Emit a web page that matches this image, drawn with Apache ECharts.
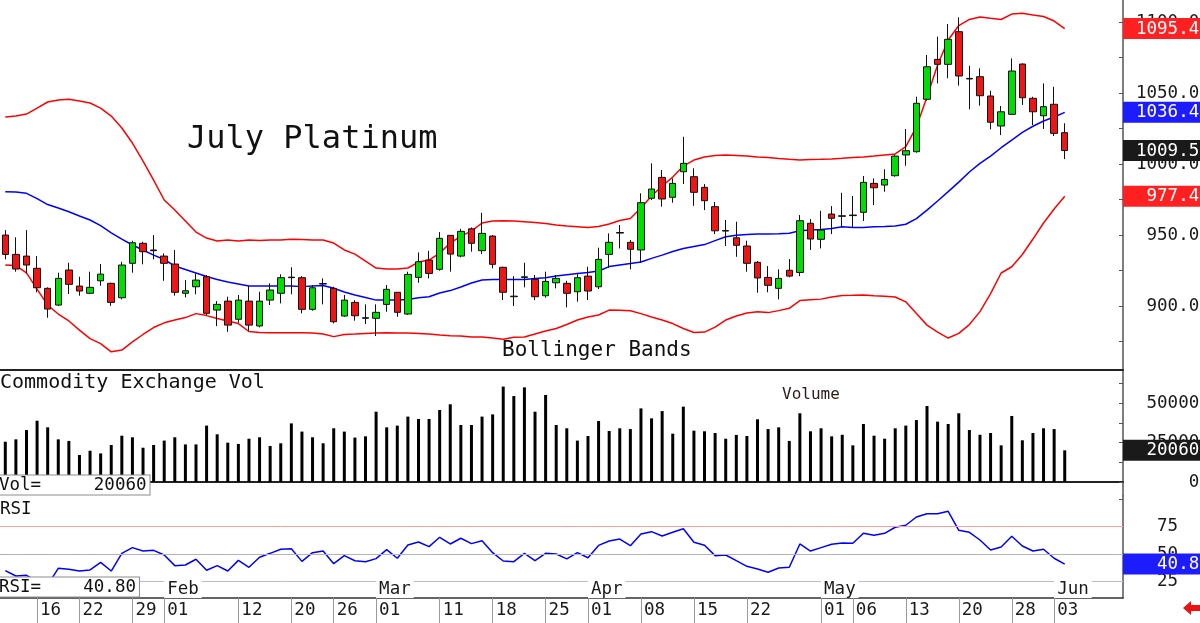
<!DOCTYPE html>
<html lang="en">
<head>
<meta charset="UTF-8">
<title>July Platinum</title>
<script src="https://cdn.jsdelivr.net/npm/echarts@6/dist/echarts.min.js"></script>
<style>
  html, body { margin: 0; padding: 0; background: #fff; }
  #main { width: 1200px; height: 623px; }
</style>
</head>
<body>
<div id="main"></div>
<script>
var dates = ['01-09','01-10','01-11','01-12','01-16','01-17','01-18','01-19','01-22','01-23','01-24','01-25','01-26','01-29','01-30','01-31',
  '02-01','02-02','02-05','02-06','02-07','02-08','02-09','02-12','02-13','02-14','02-15','02-16','02-20','02-21','02-22','02-23','02-26','02-27','02-28','02-29',
  '03-01','03-04','03-05','03-06','03-07','03-08','03-11','03-12','03-13','03-14','03-15','03-18','03-19','03-20','03-21','03-22','03-25','03-26','03-27','03-28',
  '04-01','04-02','04-03','04-04','04-05','04-08','04-09','04-10','04-11','04-12','04-15','04-16','04-17','04-18','04-19','04-22','04-23','04-24','04-25','04-26','04-29','04-30',
  '05-01','05-02','05-03','05-06','05-07','05-08','05-09','05-10','05-13','05-14','05-15','05-16','05-17','05-20','05-21','05-22','05-23','05-24','05-28','05-29','05-30','05-31',
  '06-03'];

var opens = [950.0,936.4,935.2,926.6,912.5,900.7,925.4,914.1,909.0,917.8,
  916.0,905.9,930.1,944.2,939.5,935.2,929.6,909.0,913.6,920.7,
  897.2,903.5,890.7,903.5,886.0,904.2,909.0,920.0,920.0,897.7,
  915.5,912.5,893.0,902.6,891.4,891.4,901.2,909.7,894.4,920.2,
  932.4,925.9,949.8,935.2,954.4,939.0,949.3,927.3,906.6,920.2,
  918.8,907.3,916.4,916.0,910.1,921.1,913.6,936.4,951.8,944.9,
  939.5,975.9,990.6,976.6,994.6,991.1,983.6,970.0,952.8,948.1,
  942.3,930.8,920.2,912.5,925.2,923.7,958.3,947.0,964.8,963.2,
  964.1,966.0,986.4,985.2,991.8,1006.4,1008.7,1045.6,1073.7,1070.2,
  1093.2,1060.3,1061.5,1047.9,1026.8,1035.0,1070.4,1046.3,1034.0,1042.1,
  1022.1];
var closes = [936.4,926.1,928.9,912.9,897.9,919.5,915.3,910.6,913.2,922.5,
  902.6,928.9,944.6,938.3,939.0,930.1,909.7,910.8,918.3,894.9,
  901.2,886.6,904.2,886.6,903.5,911.3,920.0,920.4,897.7,912.9,
  915.9,889.0,904.2,893.2,891.8,895.6,911.8,895.6,922.3,931.2,
  923.0,947.7,936.6,952.6,944.2,951.2,929.4,909.7,907.0,920.6,
  906.6,917.4,919.5,909.0,920.0,910.6,932.9,944.9,951.4,940.0,
  972.8,982.4,975.4,986.4,1000.5,980.1,974.2,953.0,953.2,942.8,
  930.1,919.8,914.6,919.5,921.1,960.1,947.2,953.5,961.8,963.6,
  963.7,987.1,983.3,989.2,1005.6,1009.4,1042.8,1068.5,1070.2,1087.8,
  1062.0,1059.9,1048.1,1029.4,1036.8,1065.5,1046.7,1036.8,1040.4,1021.6,
  1009.5];
var lows = [932.9,924.2,923.0,909.7,891.8,900.0,908.5,907.3,908.5,914.3,
  900.2,904.7,923.5,929.4,932.9,917.8,907.3,906.1,908.3,893.7,
  885.9,881.9,888.3,882.4,885.0,900.7,901.9,908.3,894.9,896.7,
  901.2,887.8,892.5,889.7,887.3,878.9,896.0,892.5,893.7,916.4,
  919.5,924.9,924.2,934.3,938.3,936.6,926.6,904.2,900.0,913.2,
  904.2,905.9,912.5,899.1,903.1,904.2,912.0,927.0,940.6,925.9,
  930.5,974.7,970.0,972.8,985.9,970.6,967.6,950.7,942.3,934.7,
  924.2,909.4,909.7,904.7,920.2,921.1,939.5,940.6,950.7,955.4,
  955.4,959.9,971.1,980.5,991.1,998.8,1008.0,1044.6,1056.8,1060.4,
  1055.2,1038.5,1041.1,1024.4,1020.4,1034.5,1041.6,1027.5,1024.7,1019.7,
  1003.5];
var highs = [953.5,948.4,953.5,935.2,913.2,923.5,930.5,920.7,924.2,929.6,
  916.5,931.2,946.0,945.3,950.0,937.1,939.5,918.3,923.0,921.9,
  903.5,906.6,907.8,914.1,910.1,916.0,922.4,927.3,921.1,914.8,
  919.5,913.6,907.8,904.2,901.2,901.2,914.8,909.9,924.2,937.8,
  938.9,952.1,950.0,954.4,955.4,965.7,950.0,927.7,921.1,930.5,
  921.9,924.2,921.9,917.8,922.4,927.7,941.1,951.2,957.1,946.5,
  979.4,1000.5,995.8,989.9,1019.2,997.0,985.9,973.3,960.6,959.4,
  946.0,931.7,928.2,925.9,933.1,964.1,961.3,967.1,970.4,979.8,
  977.5,991.6,989.9,996.3,1006.8,1024.7,1047.4,1076.8,1089.7,1098.6,
  1103.3,1069.2,1067.4,1051.6,1040.9,1074.4,1070.9,1047.4,1056.8,1054.4,
  1028.7];

// Bollinger bands
var upperBand = [1033.1,1033.8,1035.2,1039.4,1043.7,1045.1,1045.6,1044.4,1043.0,1039.4,
  1033.8,1025.4,1014.8,1002.1,988.7,974.7,967.6,959.9,952.1,947.9,
  945.8,946.5,945.8,946.5,946.1,946.5,946.5,947.0,946.8,946.5,
  946.5,944.4,939.5,936.6,931.7,926.8,926.1,926.1,926.8,931.0,
  932.4,937.3,944.4,949.3,952.8,958.5,959.9,960.1,959.9,959.4,
  958.8,958.1,957.1,956.4,955.9,955.4,956.1,957.8,960.2,961.6,
  969.0,977.5,984.5,990.9,998.6,1002.8,1004.9,1006.0,1006.4,1006.1,
  1005.6,1004.9,1004.6,1003.9,1003.3,1002.8,1003.2,1003.3,1003.5,1004.0,
  1004.6,1004.9,1005.6,1006.4,1007.1,1012.2,1026.1,1047.4,1069.7,1087.3,
  1097.5,1101.8,1103.5,1102.6,1101.8,1105.6,1106.1,1104.9,1103.9,1100.7,
  1095.4];
var midBand = [980.5,980.3,979.4,975.7,971.5,969.0,966.4,963.4,960.6,956.7,
  951.6,947.2,943.0,939.5,935.9,932.8,928.2,925.7,923.3,920.8,
  918.7,916.9,915.5,914.1,914.1,914.1,914.2,914.2,913.7,914.1,
  914.5,912.6,909.9,907.8,906.0,904.2,904.2,904.2,904.6,905.9,
  906.6,909.2,910.9,913.4,916.2,918.3,918.8,918.8,918.8,918.8,
  919.4,920.0,921.1,922.0,922.9,923.6,924.7,927.8,928.9,929.9,
  931.0,933.6,935.9,938.4,940.5,941.9,943.3,946.1,948.8,949.9,
  950.4,950.7,950.7,950.9,951.3,953.0,953.5,954.0,954.7,955.9,
  955.4,955.4,955.9,956.1,956.4,957.6,961.6,967.6,974.0,980.6,
  987.3,994.4,1000.5,1005.6,1011.5,1016.9,1022.3,1026.6,1030.3,1033.1,
  1036.4];
var lowerBand = [928.9,928.5,923.4,912.0,900.7,894.4,889.5,883.1,877.1,873.6,
  867.8,869.0,874.8,880.0,884.9,888.2,890.2,891.9,894.7,893.3,
  891.3,889.5,887.7,882.1,881.4,881.2,881.2,881.2,881.2,881.0,
  880.3,878.5,880.0,880.3,880.7,881.0,881.2,881.1,881.0,880.7,
  880.3,879.7,879.2,878.9,878.3,878.2,877.5,876.6,878.0,878.2,
  880.3,882.4,884.2,887.0,890.2,892.3,893.7,897.2,897.0,896.7,
  894.7,892.3,890.2,887.7,884.2,881.4,881.7,885.2,890.2,893.0,
  895.1,896.0,895.4,896.8,898.4,903.9,904.4,904.9,906.4,907.5,
  907.6,907.8,907.3,906.9,906.4,903.0,894.7,886.6,881.7,877.5,
  880.8,887.0,896.1,908.8,923.3,927.7,936.3,947.2,958.5,968.3,
  977.4];

var volumes = [25500,27000,32900,38800,34600,27000,26000,17100,19800,18100,
  23400,29300,28300,21700,23400,26200,28300,23800,23800,35700,
  30200,24900,24100,27400,28300,22800,24500,37100,31900,28300,
  24500,34000,31900,28100,28900,44500,34600,35700,41400,39900,
  39900,45600,49200,36100,36100,41400,42800,60400,54400,59900,
  44500,55100,36100,34000,26200,29100,38600,32300,34000,33500,
  46600,40300,44900,30600,47700,32500,32100,31000,27400,29800,
  29100,39700,33500,34600,26000,43500,32100,34000,28900,29900,
  23200,36700,29300,27400,34000,35700,39200,48100,38200,36700,
  43500,32900,29900,31000,23200,41800,26400,31000,34000,33500,
  20060];

var rsi = [34.9,30.0,30.6,25.0,22.0,37.0,36.1,34.5,35.5,42.4,
  34.5,50.6,55.8,52.7,53.3,49.1,39.4,40.0,45.2,35.2,
  39.4,34.5,44.2,37.9,47.0,50.6,54.3,54.8,43.3,51.2,
  52.7,41.2,48.5,43.9,43.0,45.8,53.9,46.1,58.2,60.9,
  56.7,65.2,59.1,64.3,59.4,62.1,51.2,43.6,43.0,50.6,
  43.9,50.6,50.0,45.5,51.2,46.6,57.8,61.8,63.6,57.5,
  68.2,70.3,66.4,69.7,73.0,60.6,57.9,48.5,49.1,43.9,
  38.8,36.4,33.4,37.3,37.9,59.1,52.7,55.8,58.8,60.0,
  59.7,68.8,67.0,68.8,74.3,76.1,83.6,86.6,86.6,88.8,
  71.5,69.7,62.7,53.6,56.4,66.1,57.3,52.7,54.3,46.1,
  40.8];

var dayTicks = ['01-16','01-22','01-29','02-01','02-12','02-20','02-26','03-01','03-11','03-18','03-25',
  '04-01','04-08','04-15','04-22','05-01','05-06','05-13','05-20','05-28','06-03'];
var monthTicks = ['02-01','03-01','04-01','05-01','06-03'];
var monthNames = ['Feb','Mar','Apr','May','Jun'];
var priceLabels = [900, 950, 1000, 1050, 1100];
var priceMinor = [875, 900, 925, 950, 975, 1000, 1025, 1050, 1075, 1100];
var volLabels = [0, 25000, 50000];
var volMinor = [0, 12500, 25000, 37500, 50000, 62500];
var rsiLabels = [25, 50, 75];

var FONT = 'DejaVu Sans Mono';
var last = dates.length - 1;

// a few empty slots to the right of the last bar
var categories = dates.slice();
for (var k = 1; k <= 5; k++) categories.push('pad' + k);

var candles = dates.map(function (d, i) {
  return [opens[i], closes[i], lows[i], highs[i]];
});

function pad(s, n) {
  s = String(s);
  while (s.length < n) s = ' ' + s;
  return s;
}
function near(a, b) { return Math.abs(a - b) < 0.01; }

// ticks sit one slot before the labelled day
function dayInterval(index) { return dayTicks.indexOf(categories[index + 1]) >= 0; }
function monthInterval(index) { return monthTicks.indexOf(categories[index + 1]) >= 0; }

var chartDom = document.getElementById('main');
var myChart = echarts.init(chartDom, null, { renderer: 'canvas' });

var labelFont = { fontFamily: FONT, fontSize: 17.5, color: '#1a1a1a' };
function box(color) {
  return { backgroundColor: color, color: '#fff', fontFamily: FONT, fontSize: 17.5, padding: [2, 30, 1, 13] };
}
var boxRich = { r: box('#ff2121'), b: box('#1c1cff'), k: box('#1a1a1a') };

var PRICE_MIN = 855.0, PRICE_MAX = 1115.5;
var VOL_MIN = -8862, VOL_MAX = 70263;
var RSI_MIN = 10, RSI_MAX = 102.7;

var option = {
  animation: false,
  textStyle: { fontFamily: FONT },
  grid: [
    { left: 0, right: 77, top: 0, height: 370, outerBoundsMode: 'none', containLabel: false },
    { left: 0, right: 77, top: 371, height: 125, outerBoundsMode: 'none', containLabel: false },
    { left: 0, right: 77, top: 496, height: 102, outerBoundsMode: 'none', containLabel: false }
  ],
  xAxis: [
    { gridIndex: 0, type: 'category', data: categories,
      axisLine: { lineStyle: { color: '#222', width: 2 } }, axisTick: { show: false }, axisLabel: { show: false } },
    { gridIndex: 1, type: 'category', data: categories,
      axisLine: { lineStyle: { color: '#222', width: 2 } }, axisTick: { show: false }, axisLabel: { show: false } },
    { gridIndex: 2, type: 'category', data: categories, position: 'bottom',
      axisLine: { lineStyle: { color: '#333', width: 1.5 } },
      axisTick: { show: true, alignWithLabel: true, interval: dayInterval, length: 25, lineStyle: { color: '#9a9a9a' } },
      axisLabel: Object.assign({
        interval: dayInterval, align: 'left', margin: 3, padding: [0, 0, 0, 3],
        formatter: function (v, i) { return categories[i + 1].slice(3); }
      }, labelFont) },
    { gridIndex: 2, type: 'category', data: categories, position: 'bottom', z: 10,
      axisLine: { show: false }, axisTick: { show: false },
      axisLabel: Object.assign({
        inside: true, interval: monthInterval, align: 'left', margin: 0,
        backgroundColor: '#fff', padding: [0, 3, 0, 3],
        formatter: function (v, i) { return monthNames[monthTicks.indexOf(categories[i + 1])]; }
      }, labelFont) }
  ],
  yAxis: [
    { gridIndex: 0, type: 'value', position: 'right', min: PRICE_MIN, max: PRICE_MAX, splitLine: { show: false },
      axisLine: { show: true, lineStyle: { color: '#555', width: 1.5 } },
      axisTick: { show: true, inside: true, length: 4, customValues: priceMinor, lineStyle: { color: '#555' } },
      axisLabel: Object.assign({ customValues: priceLabels, align: 'left', margin: 13,
        formatter: function (v) { return pad(v.toFixed(1), 6); } }, labelFont) },
    { gridIndex: 0, type: 'value', position: 'right', min: PRICE_MIN, max: PRICE_MAX, splitLine: { show: false },
      axisLine: { show: false }, axisTick: { show: false },
      axisLabel: { customValues: [lowerBand[last], closes[last], midBand[last], upperBand[last]], align: 'left', margin: 0,
        rich: boxRich,
        formatter: function (v) {
          var key = near(v, midBand[last]) ? 'b' : near(v, closes[last]) ? 'k' : 'r';
          return '{' + key + '|' + pad(v.toFixed(1), 6) + '}';
        } } },
    { gridIndex: 1, type: 'value', position: 'right', min: VOL_MIN, max: VOL_MAX, splitLine: { show: false },
      axisLine: { show: true, lineStyle: { color: '#555', width: 1.5 } },
      axisTick: { show: true, inside: true, length: 4, customValues: volMinor, lineStyle: { color: '#555' } },
      axisLabel: Object.assign({ customValues: volLabels, align: 'left', margin: 13,
        formatter: function (v) { return pad(v, 6); } }, labelFont) },
    { gridIndex: 1, type: 'value', position: 'right', min: VOL_MIN, max: VOL_MAX, splitLine: { show: false },
      axisLine: { show: false }, axisTick: { show: false },
      axisLabel: { customValues: [volumes[last]], align: 'left', margin: 0, rich: boxRich,
        formatter: function (v) { return '{k|' + pad(v, 6) + '}'; } } },
    { gridIndex: 2, type: 'value', position: 'right', min: RSI_MIN, max: RSI_MAX, splitLine: { show: false },
      axisLine: { show: true, lineStyle: { color: '#555', width: 1.5 } },
      axisTick: { show: true, inside: true, length: 4, customValues: [25, 50, 75, 100], lineStyle: { color: '#555' } },
      axisLabel: Object.assign({ customValues: rsiLabels, align: 'left', margin: 13,
        formatter: function (v) { return pad(v, 4); } }, labelFont) },
    { gridIndex: 2, type: 'value', position: 'right', min: RSI_MIN, max: RSI_MAX, splitLine: { show: false },
      axisLine: { show: false }, axisTick: { show: false },
      axisLabel: { customValues: [rsi[last]], align: 'left', margin: 0, rich: boxRich,
        formatter: function (v) { return '{b|' + pad(v.toFixed(2), 7) + '}'; } } }
  ],
  series: [
    { name: 'Upper', type: 'line', xAxisIndex: 0, yAxisIndex: 0, data: upperBand, showSymbol: false, silent: true,
      lineStyle: { color: '#ff0000', width: 1.5 }, z: 2 },
    { name: 'Middle', type: 'line', xAxisIndex: 0, yAxisIndex: 0, data: midBand, showSymbol: false, silent: true,
      lineStyle: { color: '#0000ff', width: 1.5 }, z: 2 },
    { name: 'Lower', type: 'line', xAxisIndex: 0, yAxisIndex: 0, data: lowerBand, showSymbol: false, silent: true,
      lineStyle: { color: '#ff0000', width: 1.5 }, z: 2 },
    { name: 'July Platinum', type: 'candlestick', xAxisIndex: 0, yAxisIndex: 0, data: candles, barWidth: 7, z: 3,
      itemStyle: { color: '#00dd00', color0: '#ee1515', borderColor: '#111', borderColor0: '#111', borderWidth: 1 } },
    { name: 'Volume', type: 'bar', xAxisIndex: 1, yAxisIndex: 2, data: volumes, barWidth: 3,
      itemStyle: { color: '#000' } },
    { name: 'RSI', type: 'line', xAxisIndex: 2, yAxisIndex: 4, data: rsi, showSymbol: false,
      lineStyle: { color: '#0000ff', width: 1.5 }, z: 3,
      markLine: {
        silent: true, symbol: 'none', label: { show: false },
        data: [
          { yAxis: 75, lineStyle: { color: '#ff9d9d', width: 1, type: 'solid' } },
          { yAxis: 50, lineStyle: { color: '#b4b4b4', width: 1, type: 'solid' } },
          { yAxis: 25, lineStyle: { color: '#b9b9f2', width: 1, type: 'solid' } }
        ]
      } }
  ],
  graphic: [
    { type: 'text', x: 187, y: 140, z: 50,
      style: { text: 'July Platinum', font: '32px "DejaVu Sans Mono"', fill: '#111', verticalAlign: 'middle' } },
    { type: 'text', x: 502, y: 351, z: 50,
      style: { text: 'Bollinger Bands', font: '21px "DejaVu Sans Mono"', fill: '#111', verticalAlign: 'middle' } },
    { type: 'text', x: 0, y: 383, z: 50,
      style: { text: 'Commodity Exchange Vol', font: '20px "DejaVu Sans Mono"', fill: '#111', verticalAlign: 'middle' } },
    { type: 'text', x: 782, y: 395, z: 50,
      style: { text: 'Volume', font: '16px "DejaVu Sans Mono"', fill: '#2a1a1a', verticalAlign: 'middle' } },
    { type: 'text', x: 0, y: 509, z: 50,
      style: { text: 'RSI', font: '17.5px "DejaVu Sans Mono"', fill: '#111', verticalAlign: 'middle' } },
    { type: 'text', x: -4, y: 485, z: 60,
      style: { text: 'Vol=' + pad(volumes[last], 10), font: '17.5px "DejaVu Sans Mono"', fill: '#111',
        verticalAlign: 'middle', backgroundColor: '#fff', borderColor: '#8c8c8c', borderWidth: 1, padding: [1, 3, 0, 3] } },
    { type: 'text', x: -4, y: 587, z: 60,
      style: { text: 'RSI=' + pad(rsi[last].toFixed(2), 9), font: '17.5px "DejaVu Sans Mono"', fill: '#111',
        verticalAlign: 'middle', backgroundColor: '#fff', borderColor: '#8c8c8c', borderWidth: 1, padding: [1, 3, 0, 3] } },
    { type: 'polygon', z: 60,
      shape: { points: [[1183, 608], [1191, 601], [1191, 605], [1200, 605], [1200, 611], [1191, 611], [1191, 615]] },
      style: { fill: '#ee1111' } }
  ]
};

option && myChart.setOption(option);
</script>
</body>
</html>
